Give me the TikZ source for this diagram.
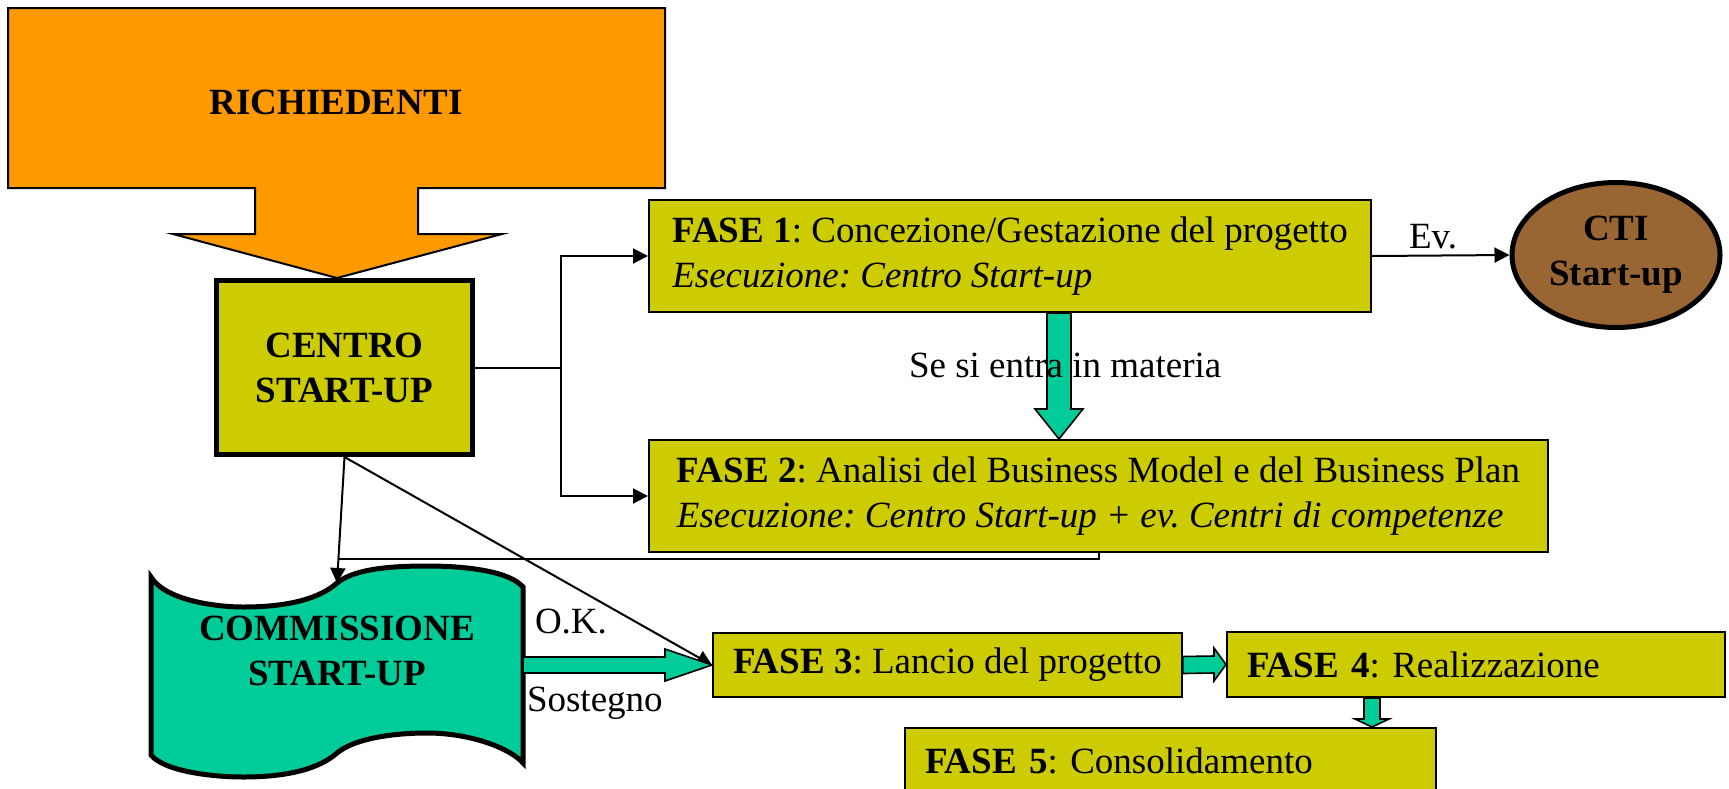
\documentclass[tikz,border=0pt]{standalone}
\usepackage{fontspec}
\setmainfont{Liberation Serif}
\usetikzlibrary{arrows.meta,positioning,shapes,calc}

\definecolor{oliva}{RGB}{204,204,0}
\definecolor{arancio}{RGB}{255,153,0}
\definecolor{verde}{RGB}{0,204,153}
\definecolor{marrone}{RGB}{153,102,51}

% block arrows: from, tip, shaft half width, head half width, head length
\newcommand{\vblock}[5]{%
  \draw[green arrow] ($(#1)+(-#3,0)$) -- ($(#2)+(-#3,-#5)$) -- ($(#2)+(-#4,-#5)$) -- (#2)
    -- ($(#2)+(#4,-#5)$) -- ($(#2)+(#3,-#5)$) -- ($(#1)+(#3,0)$) -- cycle;}
\newcommand{\hblock}[5]{%
  \draw[green arrow] ($(#1)+(0,-#3)$) -- ($(#2)+(-#5,-#3)$) -- ($(#2)+(-#5,-#4)$) -- (#2)
    -- ($(#2)+(-#5,#4)$) -- ($(#2)+(-#5,#3)$) -- ($(#1)+(0,#3)$) -- cycle;}

\frenchspacing
\begin{document}
\begin{tikzpicture}[x=0.5pt, y=-0.5pt, line width=1pt,
  every node/.style={font=\fontsize{18.5}{22.5}\selectfont},
  fase node/.style={draw, fill=oliva, anchor=north west, inner xsep=10pt, inner ysep=0pt, align=left},
  bold node/.style={align=center, font=\fontsize{18.5}{22.5}\selectfont\bfseries},
  thick node/.style={bold node, draw, line width=2.5pt},
  lbl/.style={anchor=base west, inner sep=0pt},
  arr/.style={-{Triangle[length=7.5pt,width=7.5pt]}},
  green arrow/.style={draw, fill=verde, line width=0.8pt}]
\useasboundingbox (0,0) rectangle (1729,788);

% richiedenti
\draw[fill=arancio] (8,8) -- (665,8) -- (665,188) -- (418,188) -- (418,234) -- (502,234) -- (337,278)
  -- (173,234) -- (255,234) -- (255,188) -- (8,188) -- cycle;
\node[bold node] (richiedenti) at (336,102) {RICHIEDENTI};

\node[thick node, fill=oliva, minimum width=128pt, minimum height=87pt] (centro) at (344.5,367.5) {CENTRO\\START-UP};
\node[thick node, ellipse, fill=marrone, minimum width=104pt, minimum height=72.5pt, inner sep=0pt] (cti) at (1616,255) {CTI\\Start-up};

\node[fase node, minimum width=361pt, minimum height=56pt] (fase1) at (648,199) {\textbf{FASE 1}: Concezione/Gestazione del progetto\\\textit{Esecuzione: Centro Start-up}};
\node[fase node, minimum width=449.5pt, minimum height=56pt] (fase2) at (648,439) {\textbf{FASE 2}: Analisi del Business Model e del Business Plan\\\textit{Esecuzione: Centro Start-up + ev. Centri di competenze}};
\node[fase node, minimum width=233pt, minimum height=32pt] (fase3) at (712,632) {\textbf{FASE 3}: Lancio del progetto};
\node[fase node, text width=229pt, minimum height=32.5pt] (fase4) at (1226,631) {\textbf{FASE 4}: Realizzazione};
\node[fase node, text width=245.5pt, minimum height=32.5pt] (fase5) at (904,727) {\textbf{FASE 5}: Consolidamento};

% commissione
\draw[fill=verde, line width=2.5pt] (151,577) .. controls (165,600) and (215,607) .. (243,607)
  .. controls (290,607) and (320,598) .. (337,583) .. controls (355,568) and (395,566) .. (427,566)
  .. controls (470,566) and (510,572) .. (523,587) -- (523,763)
  .. controls (510,748) and (470,733) .. (427,733) .. controls (395,733) and (355,738) .. (337,753)
  .. controls (320,768) and (290,777) .. (243,777) .. controls (215,777) and (165,772) .. (151,755) -- cycle;
\node[bold node] (commissione) at (337,651) {COMMISSIONE\\START-UP};

% connectors
\coordinate (branch) at (561,367.5);
\draw[arr] (centro.east) -- (branch) |- (fase1.west);
\draw[arr] (branch) |- (fase2.west);
\draw[arr] (fase1.east) -- (cti.west);
\coordinate (commtop) at (337,583);
\coordinate (fbend) at (338.5,559);
\draw[arr] (centro.south) -- (commtop);
\draw (fase2.south) |- (fbend);
\draw[arr] (centro.south) -- (fase3.west);

% green arrows
\coordinate (s12) at ($(fase1.south)+(49,0)$);
\coordinate (t12) at (s12 |- fase2.north);
\vblock{s12}{t12}{12}{24}{30}
\coordinate (comright) at ($(fase3.west)+(-189,0)$);
\hblock{comright}{fase3.west}{8}{16}{47}
\hblock{fase3.east}{fase4.west}{8.5}{16.5}{12}
\coordinate (s45) at ($(fase4.south)+(-104,0)$);
\coordinate (t45) at (s45 |- fase5.north);
\vblock{s45}{t45}{8}{17}{8}

% labels
\node[lbl] (ev) at (1408,248) {Ev.};
\node[lbl] (materia) at (908,377) {Se si entra in materia};
\node[lbl] (ok) at (534,633) {O.K.};
\node[lbl] (sostegno) at (526,711) {Sostegno};
\end{tikzpicture}
\end{document}
